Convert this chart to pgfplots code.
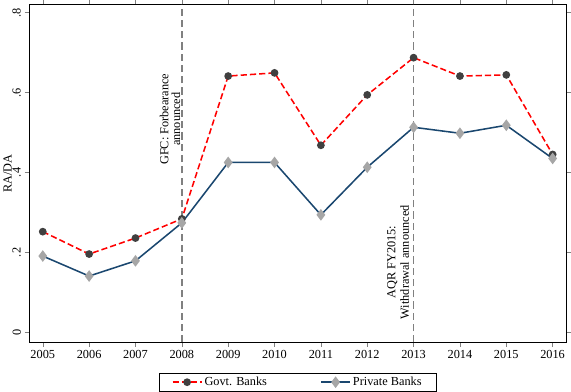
\documentclass[border=0pt]{standalone}
\usepackage{pgfplots}
\pgfplotsset{compat=1.18}
\usepackage{fontspec}
\setmainfont{Liberation Serif}
\definecolor{navy}{HTML}{1A476F}
\begin{document}
\begin{tikzpicture}
\begin{axis}[scale only axis, width=525pt, height=330pt,
  xmin=2004.7, xmax=2016.3, ymin=-0.025, ymax=0.82,
  xtick={2005,...,2016}, ytick={0,0.2,0.4,0.6,0.8},
  yticklabels={0,.2,.4,.6,.8},
  xticklabel style={/pgf/number format/1000 sep={}},
  /pgf/number format/assume math mode=true,
  yticklabel style={rotate=90},
  ylabel={RA/DA}, ylabel style={yshift=-6pt, font=\large},
  tick align=outside, ticklabel style={font=\large},
  legend style={at={(0.5,-0.09)}, anchor=north, legend columns=2, font=\large, draw=black, inner xsep=12pt, /tikz/every even column/.append style={column sep=50pt}},
  legend image code/.code={\draw[#1] (0cm,0cm) -- (0.5cm,0cm) -- (1.0cm,0cm); \draw[#1, only marks] plot coordinates {(0.5cm,0cm)};},
  clip=false]
\addplot[gray, dash pattern=on 7pt off 4pt, line width=1.6pt, forget plot] coordinates {(2008,-0.025) (2008,0.82)};
\addplot[gray, dash pattern=on 7pt off 4pt, line width=1.6pt, forget plot] coordinates {(2013,-0.025) (2013,0.82)};
\addplot[red, dash pattern=on 6pt off 3pt, line width=1.5pt, mark=*, mark options={solid, fill=darkgray, draw=darkgray}, mark size=3pt] coordinates {
(2005,0.252)(2006,0.196)(2007,0.236)(2008,0.284)(2009,0.641)(2010,0.649)(2011,0.468)(2012,0.594)(2013,0.687)(2014,0.641)(2015,0.644)(2016,0.445)};
\addplot[navy, solid, line width=1.5pt, mark=diamond*, mark options={solid, fill=gray!70, draw=gray!70}, mark size=4.5pt] coordinates {
(2005,0.191)(2006,0.141)(2007,0.179)(2008,0.274)(2009,0.425)(2010,0.425)(2011,0.294)(2012,0.413)(2013,0.513)(2014,0.498)(2015,0.518)(2016,0.435)};
\legend{Govt. Banks, Private Banks}
\node[rotate=90, anchor=north east, font=\large, inner sep=1pt] at (axis cs:2007.5,0.65) {\shortstack{GFC: Forbearance\\announced}};
\node[rotate=90, anchor=south west, font=\large, inner sep=1pt] at (axis cs:2012.93,0.03) {\shortstack{AQR FY2015:\\Withdrawal announced}};
\end{axis}
\end{tikzpicture}
\end{document}
